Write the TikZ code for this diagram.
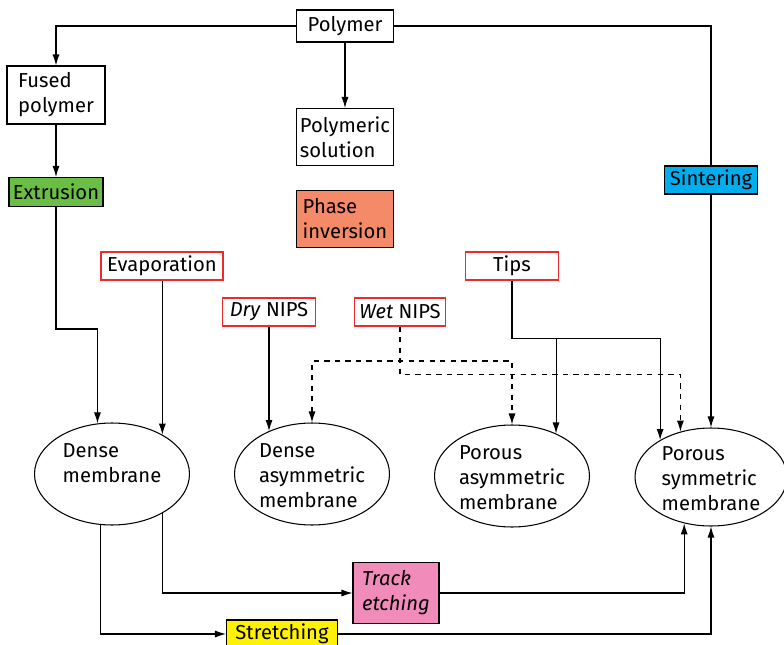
\documentclass[tikz,border=0pt]{standalone}
\usepackage{fontspec}
\setmainfont{Fira Sans}
\usetikzlibrary{shapes.geometric,arrows.meta}

\definecolor{extgreen}{HTML}{6ABD45}
\definecolor{phasesalmon}{HTML}{F58A68}
\definecolor{sintblue}{HTML}{00AEEF}
\definecolor{trackpink}{HTML}{F18BBA}
\definecolor{stretchyellow}{HTML}{FFF200}
\definecolor{routered}{HTML}{EE2A2E}

% membrane labels sit a bit below the middle of the ellipse
\newcommand{\membtext}[1]{\raisebox{-5pt}[0pt][0pt]{\begin{tabular}{@{}l@{}}#1\end{tabular}}}

\tikzset{
  box/.style={draw, align=left, inner sep=1pt, line width=0.6pt},
  routebox/.style={box, draw=routered},
  memb/.style={draw, ellipse, inner sep=0pt, line width=0.6pt,
    minimum width=3.1cm, minimum height=2.04cm},
  link/.style={line width=0.6pt, ->},
}

\begin{document}
\begin{tikzpicture}[x=0.02cm, y=-0.02cm,
  >={Latex[length=2.2mm,width=1.4mm]},
  font=\fontsize{11.5}{14.2}\selectfont]
  \useasboundingbox (0,0) rectangle (784,645);

  \node[box, minimum width=1.94cm, minimum height=0.64cm] (poly) at (345,26) {Polymer};
  \node[box, minimum width=1.96cm, minimum height=1.16cm] (fused) at (56,95) {Fused\\polymer};
  \node[box, minimum width=1.94cm, minimum height=1.14cm] (sol) at (345,137) {Polymeric\\solution};
  \node[box, fill=extgreen, minimum width=1.88cm, minimum height=0.58cm] (extr) at (56,192) {Extrusion};
  \node[box, fill=phasesalmon, minimum width=1.94cm, minimum height=1.14cm] (phase) at (345,219) {Phase\\inversion};
  \node[box, fill=sintblue, minimum width=1.86cm, minimum height=0.56cm] (sint) at (711,180) {Sintering};

  \node[routebox, minimum width=2.44cm, minimum height=0.56cm] (evap) at (162,266) {Evaporation};
  \node[routebox, minimum width=1.86cm, minimum height=0.56cm] (dry) at (269,312) {\textit{Dry} NIPS};
  \node[routebox, minimum width=1.82cm, minimum height=0.56cm] (wet) at (400,312) {\textit{Wet} NIPS};
  \node[routebox, minimum width=1.86cm, minimum height=0.56cm] (tips) at (512,266) {Tips};

  \node[memb] (dm) at (112,474) {\membtext{Dense\\membrane\\\mbox{}}};
  \node[memb] (da) at (312,474) {\membtext{Dense\\asymmetric\\membrane}};
  \node[memb] (pa) at (512,476) {\membtext{Porous\\asymmetric\\membrane}};
  \node[memb, minimum width=3.04cm, minimum height=1.96cm] (ps) at (711,477) {\membtext{Porous\\symmetric\\membrane}};

  \node[box, fill=trackpink, minimum width=1.72cm, minimum height=1.22cm] (track) at (396,593) {\textit{Track}\\\textit{etching}};
  \node[box, fill=stretchyellow, minimum width=2.22cm, minimum height=0.56cm] (stretch) at (282,634) {Stretching};

  % from the polymer
  \draw[link] (poly.west) -| (fused.north);
  \draw[link] (poly.south) -- (sol.north);
  \draw[line width=0.6pt] (poly.east) -| (sint.north);
  \draw[link] (sint.south) -- (ps.north);
  \draw[link] (fused.south) -- (extr.north);
  \draw[link] (extr.south) -- ++(0,122) -| (dm.106);

  % routes to the membranes
  \draw[link, <-] (dm.38) -- (dm.38 |- evap.south);
  \draw[link, <-] (da.135) -- (da.135 |- dry.south);
  \draw[link, dashed, <->] (da.north) -- (da.north |- 0,361) -| (pa.north);
  \draw[link, dashed] (wet.south) -- ++(0,48) -| (ps.124);
  \draw[link] (tips.south) -- ++(0,58) -| (ps.144);
  \draw[link] (pa.44 |- 0,338) -- (pa.44);

  % post treatments
  \draw[link] (dm.322) |- (track.west);
  \draw[link] (track.east) -| (ps.240);
  \draw[link] (dm.257) |- (stretch.west);
  \draw[link] (stretch.east) -| (ps.south);
\end{tikzpicture}
\end{document}
